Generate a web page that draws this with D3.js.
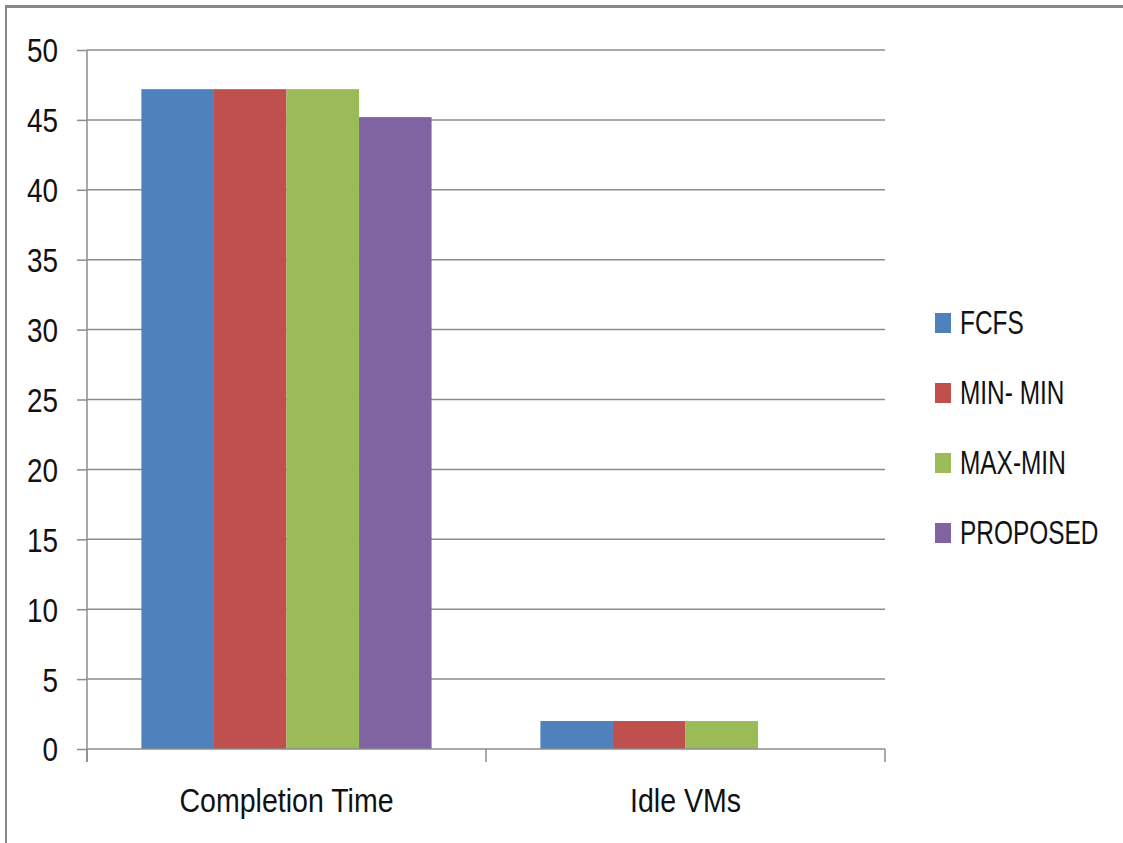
<!DOCTYPE html>
<html>
<head>
<meta charset="utf-8">
<script src="https://cdn.jsdelivr.net/npm/d3@7"></script>
<style>
  html, body { margin: 0; padding: 0; background: #fff; }
  svg { display: block; }
  text { font-family: "Liberation Sans", Arial, sans-serif; fill: #111; }
</style>
</head>
<body>
<svg id="chart" width="1123" height="843"></svg>
<script>
// Scheduling comparison: completion time and idle VMs per algorithm
const categories = ["Completion Time", "Idle VMs"];
const seriesNames = ["FCFS", "MIN- MIN", "MAX-MIN", "PROPOSED"];
const fcfs = [47.2, 2];
const minMin = [47.2, 2];
const maxMin = [47.2, 2];
const proposed = [45.2, 0];
const yTicks = [0, 5, 10, 15, 20, 25, 30, 35, 40, 45, 50];
const colors = ["#4F81BD", "#C0504D", "#9BBB59", "#8064A2"];

const seriesValues = [fcfs, minMin, maxMin, proposed];

// Horizontal squeeze factors giving a condensed look to the text
const SQ_TICK = 0.82;
const SQ_CAT = 0.84;
const SQ_LEG = 0.74;

const svg = d3.select("#chart");

// Outer frame: top and left edges only
svg.append("rect").attr("x", 5).attr("y", 5).attr("width", 1118).attr("height", 3).attr("fill", "#888");
svg.append("rect").attr("x", 5).attr("y", 5).attr("width", 2).attr("height", 838).attr("fill", "#888");

const plot = { left: 87, right: 885, top: 50, bottom: 749 };

const y = d3.scaleLinear().domain([0, 50]).range([plot.bottom, plot.top]);
const x0 = d3.scaleBand().domain(categories).range([plot.left, plot.right]).paddingInner(0).paddingOuter(0);
const x1 = d3.scaleBand().domain(seriesNames).range([0, x0.bandwidth()]).paddingOuter(0.75).paddingInner(0);

// Horizontal gridlines
svg.append("g").selectAll("line").data(yTicks.filter(t => t > 0)).join("line")
  .attr("x1", plot.left).attr("x2", plot.right)
  .attr("y1", d => y(d)).attr("y2", d => y(d))
  .attr("stroke", "#8c8c8c").attr("stroke-width", 1.5);

// Bars
const groups = svg.append("g").selectAll("g").data(categories).join("g")
  .attr("transform", d => `translate(${x0(d)},0)`);

groups.selectAll("rect")
  .data((c, ci) => seriesNames.map((s, si) => ({ s, si, v: seriesValues[si][ci] })).filter(d => d.v > 0))
  .join("rect")
  .attr("x", d => x1(d.s))
  .attr("width", x1.bandwidth())
  .attr("y", d => y(d.v))
  .attr("height", d => y(0) - y(d.v))
  .attr("fill", d => colors[d.si]);

// Y axis
const yAxis = d3.axisLeft(y).tickValues(yTicks).tickSize(10).tickPadding(19).tickFormat(d3.format("d"));
const gy = svg.append("g").attr("transform", `translate(${plot.left},0)`).call(yAxis);
gy.select(".domain").attr("stroke", "#8c8c8c").attr("stroke-width", 1.5).attr("d", `M0,${plot.top}V${plot.bottom + 13}`);
gy.selectAll(".tick line").attr("stroke", "#8c8c8c").attr("stroke-width", 1.5);
gy.selectAll(".tick text")
  .style("font-size", "34px").style("font-family", '"Liberation Sans", Arial, sans-serif')
  .attr("fill", "#111").attr("dy", "0.35em")
  .attr("x", -29 / SQ_TICK)
  .attr("transform", `scale(${SQ_TICK},1)`);

// X axis with ticks at category boundaries
const gx = svg.append("g").attr("transform", `translate(0,${plot.bottom})`);
gx.append("line").attr("x1", plot.left).attr("x2", plot.right).attr("y1", 0).attr("y2", 0)
  .attr("stroke", "#8c8c8c").attr("stroke-width", 1.5);
const boundaries = categories.map(c => x0(c)).concat([x0(categories[categories.length - 1]) + x0.bandwidth()]);
gx.selectAll("line.tk").data(boundaries).join("line").attr("class", "tk")
  .attr("x1", d => d).attr("x2", d => d).attr("y1", 0).attr("y2", 13)
  .attr("stroke", "#8c8c8c").attr("stroke-width", 1.5);
gx.selectAll("text").data(categories).join("text")
  .attr("transform", d => `translate(${x0(d) + x0.bandwidth() / 2},63) scale(${SQ_CAT},1)`)
  .attr("text-anchor", "middle")
  .style("font-size", "34px")
  .text(d => d);

// Legend
const legend = svg.append("g").attr("transform", "translate(934,322)");
const items = legend.selectAll("g").data(seriesNames).join("g")
  .attr("transform", (d, i) => `translate(0,${i * 70})`);
items.append("rect").attr("x", 1).attr("y", -9).attr("width", 16).attr("height", 20)
  .attr("fill", (d, i) => colors[i]);
items.append("text")
  .attr("transform", `translate(26,0) scale(${SQ_LEG},1)`)
  .attr("dy", "0.35em")
  .style("font-size", "33px").text(d => d);
</script>
</body>
</html>
